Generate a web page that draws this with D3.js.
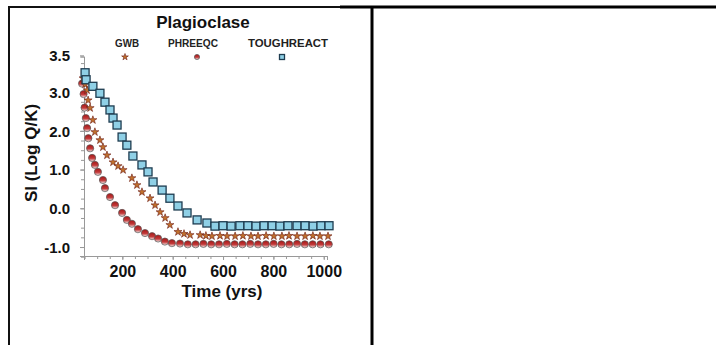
<!DOCTYPE html>
<html><head><meta charset="utf-8">
<script src="https://cdn.jsdelivr.net/npm/d3@7"></script>
<style>body{margin:0;background:#fff}svg{display:block}text{font-family:"Liberation Sans",Arial,sans-serif}</style>
</head><body><svg id="c" width="716" height="345"></svg>
<script>
// ---- data ----
const gwbTime = [44,52,60,64,72,83,91,111,123,139,163,183,203,238,258,278,310,330,350,370,389,421,445,469,509,532,556,588,616,648,679,711,739,771,802,834,862,894,926,957,985,1017];
const gwbSI   = [3.36,3.2,3.05,2.79,2.59,2.28,1.97,1.76,1.58,1.37,1.19,1.09,0.99,0.78,0.6,0.42,0.26,0.08,-0.1,-0.25,-0.43,-0.61,-0.66,-0.69,-0.69,-0.71,-0.72,-0.71,-0.72,-0.72,-0.71,-0.72,-0.72,-0.71,-0.72,-0.72,-0.71,-0.72,-0.72,-0.71,-0.72,-0.72];
const phreeqcTime = [40,46,50,55,60,65,72,80,91,103,123,131,151,171,199,218,238,262,290,318,342,369,397,429,460,491,522,553,584,615,646,677,708,739,770,801,832,863,894,925,956,987,1020];
const phreeqcSI   = [3.22,2.95,2.6,2.33,2.07,1.81,1.55,1.3,1.12,0.94,0.73,0.52,0.29,0.08,-0.12,-0.3,-0.4,-0.54,-0.64,-0.72,-0.78,-0.86,-0.9,-0.91,-0.93,-0.93,-0.92,-0.93,-0.93,-0.92,-0.93,-0.93,-0.92,-0.93,-0.93,-0.92,-0.93,-0.93,-0.92,-0.93,-0.93,-0.93,-0.93];
const toughTime = [52,56,83,111,131,151,163,179,199,218,242,278,302,322,358,389,421,457,497,536,568,600,632,667,699,731,763,795,826,858,894,926,958,989,1021];
const toughSI   = [3.5,3.32,3.15,2.97,2.74,2.54,2.33,2.15,1.84,1.63,1.35,1.12,0.94,0.68,0.47,0.26,0.06,-0.12,-0.3,-0.38,-0.46,-0.45,-0.46,-0.45,-0.45,-0.46,-0.45,-0.45,-0.46,-0.45,-0.45,-0.45,-0.46,-0.45,-0.45];
const seriesNames = ["GWB","PHREEQC","TOUGHREACT"];
const xTickValues = [200,400,600,800,1000];
const yTickValues = [-1,0,1,2,3,3.95];
const yTickLabels = ["-1.0","0.0","1.0","2.0","3.0","3.5"];
const titleText = "Plagioclase";
const xTitle = "Time (yrs)";
const yTitle = "SI (Log Q/K)";

const svg = d3.select("#c");

// frame
svg.append("line").attr("x1",8).attr("x2",345).attr("y1",7).attr("y2",7).attr("stroke","#111").attr("stroke-width",2);
svg.append("line").attr("x1",340).attr("x2",716).attr("y1",7).attr("y2",7).attr("stroke","#000").attr("stroke-width",3);
svg.append("line").attr("x1",9).attr("x2",9).attr("y1",6).attr("y2",345).attr("stroke","#111").attr("stroke-width",2);
svg.append("line").attr("x1",372).attr("x2",372).attr("y1",6).attr("y2",345).attr("stroke","#000").attr("stroke-width",3);

const x = d3.scaleLinear().domain([47.7,1013]).range([84,327]);
const y = d3.scaleLinear().domain([-1.232,3.92]).range([256,56.5]);

// axes
const axCol = "#999";
const gxm = svg.append("g").attr("transform","translate(0,256)")
  .call(d3.axisBottom(x).tickValues(d3.range(50,1001,50)).tickSize(3).tickFormat(""));
const gx = svg.append("g").attr("transform","translate(0,256)")
  .call(d3.axisBottom(x).tickValues(xTickValues).tickSize(4).tickPadding(6).tickFormat(d3.format("d")));
const gym = svg.append("g").attr("transform","translate(84,0)")
  .call(d3.axisLeft(y).tickValues(d3.range(-1.25,3.9,0.25)).tickSize(3).tickFormat(""));
const gy = svg.append("g").attr("transform","translate(84,0)")
  .call(d3.axisLeft(y).tickValues(yTickValues).tickSize(4).tickPadding(10).tickFormat((d,i)=>yTickLabels[i]));
[gxm,gx,gym,gy].forEach(g=>{g.selectAll("path,line").attr("stroke",axCol);});
gx.selectAll("text").attr("font-size",16).attr("font-weight","bold").attr("fill","#111");
gy.selectAll("text").attr("font-size",15).attr("font-weight","bold").attr("fill","#111").attr("dy","0.35em");

// titles
svg.append("text").attr("x",203).attr("y",28).attr("text-anchor","middle").attr("font-size",17).attr("font-weight","bold").attr("fill","#111").text(titleText);
svg.append("text").attr("x",222).attr("y",297).attr("text-anchor","middle").attr("font-size",17).attr("font-weight","bold").attr("fill","#111").text(xTitle);
svg.append("text").attr("transform","translate(37,153) rotate(-90)").attr("text-anchor","middle").attr("font-size",17).attr("font-weight","bold").attr("fill","#111").text(yTitle);

// marker defs
const defs = svg.append("defs");
const grad = defs.append("linearGradient").attr("id","cg").attr("x1",0).attr("x2",0).attr("y1",0).attr("y2",1);
grad.append("stop").attr("offset","0%").attr("stop-color","#a81515");
grad.append("stop").attr("offset","55%").attr("stop-color","#c23a3a");
grad.append("stop").attr("offset","100%").attr("stop-color","#f4eeee");

const star = d3.symbol().type(d3.symbolStar);
function drawStar(g, cx, cy, s){
  g.append("path").attr("d",star.size(s)()).attr("transform",`translate(${cx},${cy})`)
   .attr("fill","#c0702c").attr("stroke","#6b1a10").attr("stroke-width",0.6);
}
function drawCircle(g, cx, cy, r){
  g.append("circle").attr("cx",cx).attr("cy",cy).attr("r",r).attr("fill","url(#cg)").attr("stroke","#555").attr("stroke-width",0.7);
}
function drawSquare(g, cx, cy, s){
  g.append("rect").attr("x",cx-s/2).attr("y",cy-s/2).attr("width",s).attr("height",s)
   .attr("fill","#8fd0e6").attr("stroke","#1e3c50").attr("stroke-width",1.3);
}

const gP = svg.append("g"), gG = svg.append("g"), gT = svg.append("g");
phreeqcTime.forEach((t,i)=>drawCircle(gP, x(t), y(phreeqcSI[i]), 3.6));
gwbTime.forEach((t,i)=>drawStar(gG, x(t), y(gwbSI[i]), 20));
toughTime.forEach((t,i)=>drawSquare(gT, x(t), y(toughSI[i]), 8));

// legend
const legX = [127,193,288], legW = [24,50,80];
seriesNames.forEach((n,i)=>{
  svg.append("text").attr("x",legX[i]).attr("y",47).attr("text-anchor","middle").attr("font-size",10).attr("font-weight","bold")
    .attr("fill","#222").attr("textLength",legW[i]).attr("lengthAdjust","spacingAndGlyphs").text(n);
});
drawStar(svg,125,57,14);
drawCircle(svg,197,57,2.6);
drawSquare(svg,282,57,5);
</script></body></html>
